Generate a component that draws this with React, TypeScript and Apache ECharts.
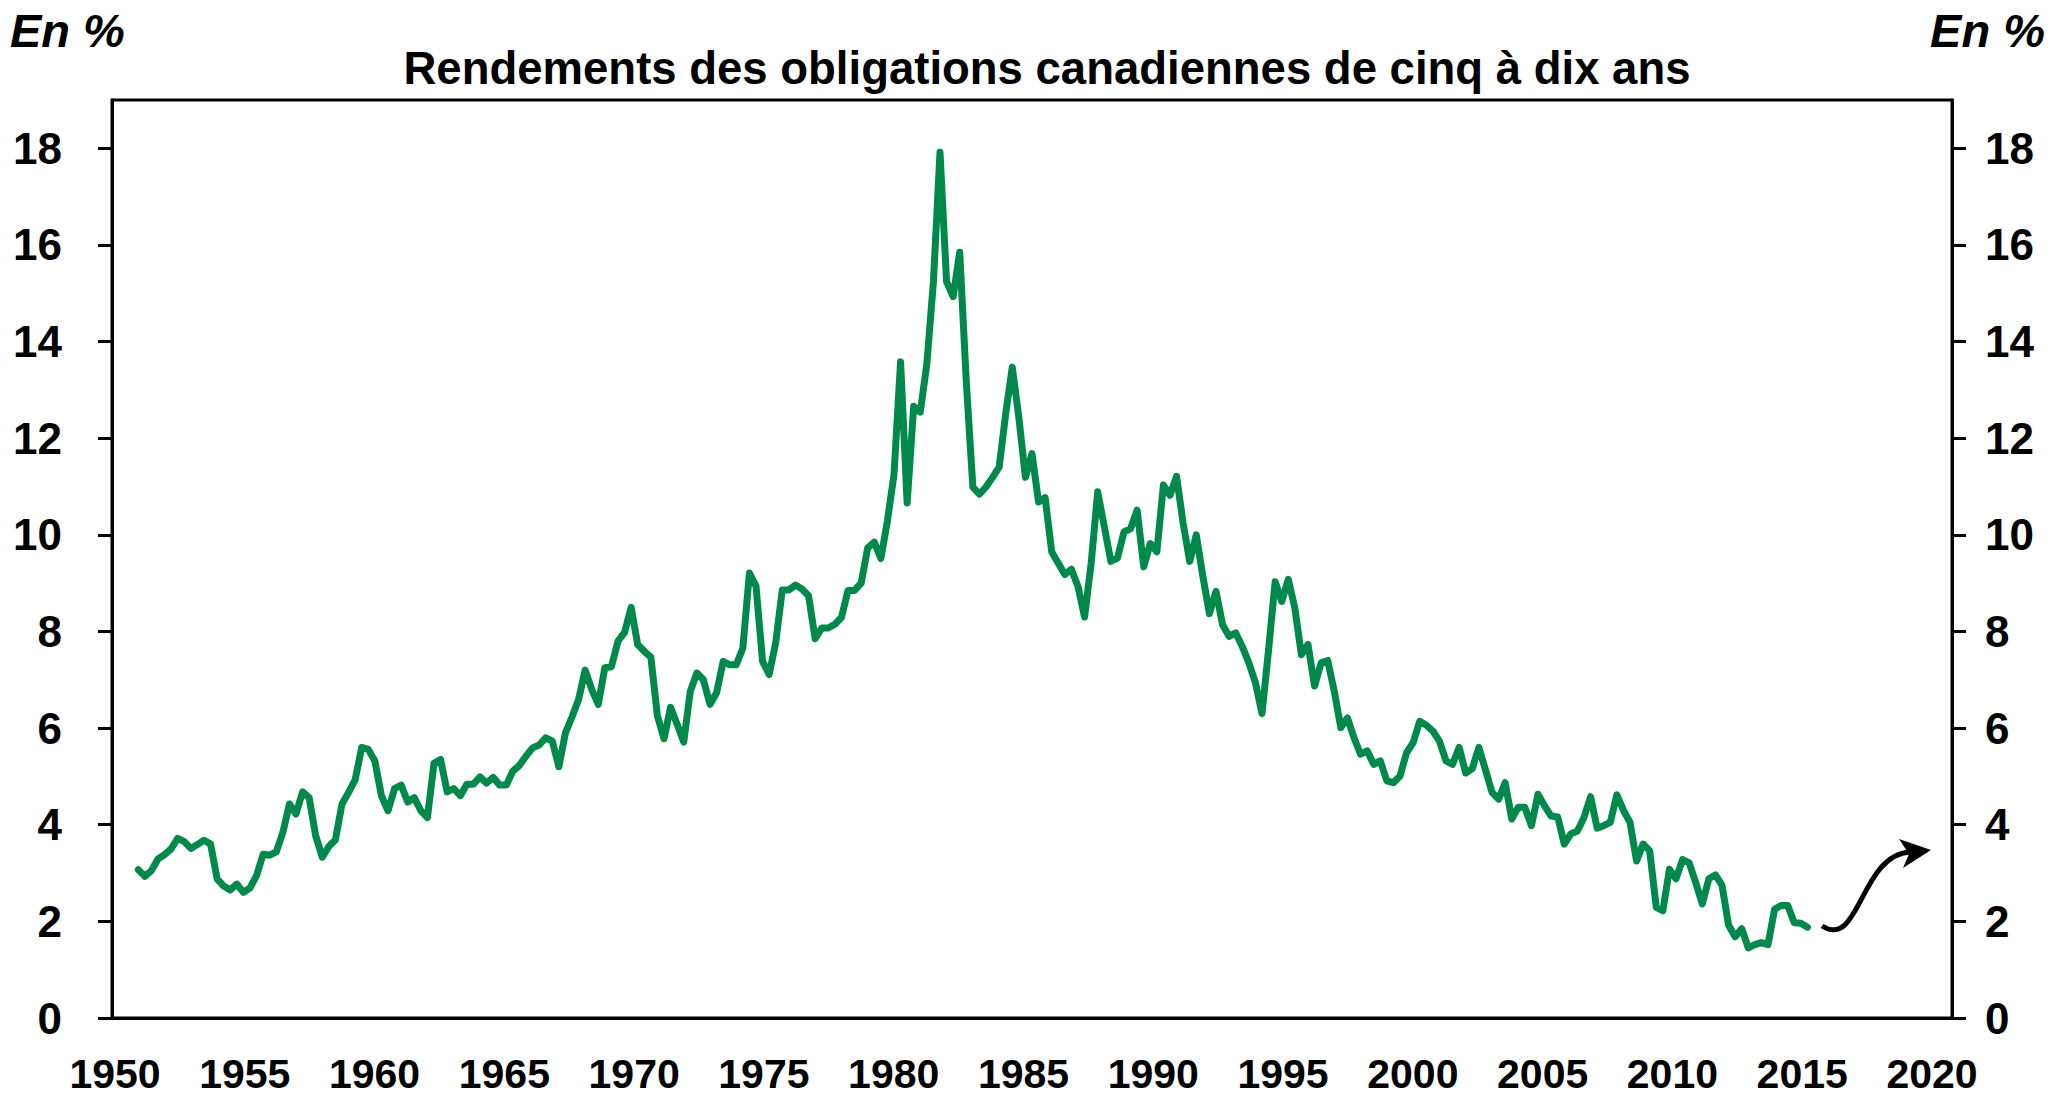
import React, { useEffect, useRef } from "react";
import * as echarts from "echarts";

// Quarterly yields (%), first observation 1951 Q1
const FIRST_YEAR = 1951;

const yields1951to1960 = [
  3.07, 2.93, 3.05, 3.29, 3.38, 3.50, 3.72, 3.65, 3.51, 3.59,
  3.68, 3.60, 2.88, 2.73, 2.65, 2.77, 2.60, 2.69, 2.95, 3.39,
  3.37, 3.44, 3.84, 4.43, 4.22, 4.68, 4.56, 3.77, 3.33, 3.55,
  3.69, 4.43, 4.67, 4.93, 5.60, 5.56, 5.32, 4.60, 4.29, 4.75,
];
const yields1961to1970 = [
  4.82, 4.47, 4.56, 4.29, 4.15, 5.27, 5.35, 4.68, 4.75, 4.60,
  4.84, 4.84, 4.99, 4.86, 4.98, 4.82, 4.82, 5.11, 5.23, 5.42,
  5.59, 5.65, 5.80, 5.73, 5.20, 5.90, 6.23, 6.59, 7.20, 6.80,
  6.49, 7.25, 7.27, 7.80, 7.98, 8.50, 7.73, 7.59, 7.47, 6.25,
];
const yields1971to1980 = [
  5.78, 6.43, 6.08, 5.71, 6.76, 7.14, 7.00, 6.49, 6.73, 7.38,
  7.31, 7.31, 7.66, 9.21, 8.94, 7.38, 7.11, 7.77, 8.86, 8.86,
  8.96, 8.88, 8.74, 7.85, 8.07, 8.07, 8.15, 8.29, 8.85, 8.85,
  9.00, 9.73, 9.85, 9.51, 10.29, 11.25, 13.58, 10.66, 12.66, 12.54,
];
const yields1981to1990 = [
  13.54, 15.24, 17.92, 15.24, 14.93, 15.85, 13.17, 10.99, 10.84, 10.99,
  11.19, 11.40, 12.51, 13.47, 12.43, 11.19, 11.68, 10.68, 10.77, 9.65,
  9.41, 9.18, 9.29, 8.93, 8.30, 9.41, 10.89, 10.17, 9.45, 9.52,
  10.06, 10.13, 10.51, 9.34, 9.82, 9.65, 11.03, 10.82, 11.21, 10.24,
];
const yields1991to2000 = [
  9.45, 10.00, 9.14, 8.37, 8.83, 8.14, 7.90, 7.97, 7.69, 7.35,
  6.94, 6.30, 7.62, 9.03, 8.62, 9.08, 8.48, 7.52, 7.73, 6.87,
  7.35, 7.40, 6.76, 6.01, 6.21, 5.80, 5.46, 5.53, 5.25, 5.32,
  4.91, 4.87, 5.01, 5.49, 5.70, 6.14, 6.06, 5.94, 5.73, 5.32,
];
const yields2001to2014 = [
  5.25, 5.60, 5.07, 5.16, 5.60, 5.14, 4.67, 4.53, 4.87, 4.12,
  4.36, 4.36, 3.98, 4.63, 4.39, 4.18, 4.16, 3.60, 3.81, 3.87,
  4.15, 4.58, 3.93, 3.98, 4.05, 4.62, 4.30, 4.05, 3.25, 3.60,
  3.46, 2.29, 2.22, 3.08, 2.88, 3.28, 3.21, 2.80, 2.36, 2.88,
  2.96, 2.75, 1.92, 1.68, 1.85, 1.45, 1.52, 1.56, 1.52, 2.25,
  2.33, 2.33, 1.97, 1.96, 1.88,
];

const allYields = [
  ...yields1951to1960,
  ...yields1961to1970,
  ...yields1971to1980,
  ...yields1981to1990,
  ...yields1991to2000,
  ...yields2001to2014,
];

const yTickValues = [0, 2, 4, 6, 8, 10, 12, 14, 16, 18];
const xMin = 1950;
const xMax = 2020;
const xStep = 5;

const titleText = "Rendements des obligations canadiennes de cinq à dix ans";
const unitText = "En %";

const FONT = '"Liberation Sans", Arial, Helvetica, sans-serif';
const GREEN = "#00894A";

export default function App() {
  const ref = useRef<HTMLDivElement>(null);

  useEffect(() => {
    if (!ref.current) return;
    const chart = echarts.init(ref.current, undefined, { renderer: "svg" });

    const seriesData = allYields.map((v, i) => [FIRST_YEAR + i / 4, v]);

    const yAxisCommon = {
      type: "value",
      gridIndex: 0,
      min: 0,
      max: 19,
      axisLine: { show: true, lineStyle: { color: "#000", width: 3 } },
      axisTick: {
        show: true,
        inside: false,
        length: 14,
        customValues: yTickValues,
        lineStyle: { color: "#000", width: 3 },
      },
      splitLine: { show: false },
    };

    const option: any = {
      animation: false,
      backgroundColor: "#ffffff",
      grid: [
        {
          left: 112,
          right: 108,
          top: 100,
          bottom: 78,
          show: true,
          borderColor: "#000",
          borderWidth: 3,
          backgroundColor: "transparent",
        },
        { left: 115, right: 128, top: 100, bottom: 78, show: false },
      ],
      xAxis: [
        {
          type: "value",
          gridIndex: 0,
          min: xMin,
          max: xMax,
          interval: xStep,
          axisLine: { show: true, onZero: false, lineStyle: { color: "#000", width: 3 } },
          axisTick: { show: false },
          axisLabel: { show: false },
          splitLine: { show: false },
        },
        {
          type: "value",
          gridIndex: 1,
          min: xMin,
          max: xMax,
          interval: xStep,
          axisLine: { show: false },
          axisTick: { show: false },
          splitLine: { show: false },
          axisLabel: {
            show: true,
            margin: 38,
            fontSize: 41,
            lineHeight: 36,
            fontWeight: "bold",
            fontFamily: FONT,
            color: "#000",
            formatter: (v: number) => String(v),
          },
        },
      ],
      yAxis: [
        {
          ...yAxisCommon,
          position: "left",
          axisLabel: {
            customValues: yTickValues,
            margin: 50,
            fontSize: 44,
            fontWeight: "bold",
            fontFamily: FONT,
            color: "#000",
            formatter: (v: number) => String(v),
          },
        },
        {
          ...yAxisCommon,
          position: "right",
          axisLabel: {
            customValues: yTickValues,
            margin: 33,
            fontSize: 44,
            fontWeight: "bold",
            fontFamily: FONT,
            color: "#000",
            formatter: (v: number) => String(v),
          },
        },
        { type: "value", gridIndex: 1, show: false, min: 0, max: 19 },
      ],
      series: [
        {
          type: "line",
          xAxisIndex: 0,
          yAxisIndex: 0,
          data: seriesData,
          showSymbol: false,
          symbol: "none",
          lineStyle: { color: GREEN, width: 7, join: "round", cap: "round" },
          z: 5,
        },
      ],
      graphic: [
        {
          type: "text",
          x: 1047,
          y: 68,
          style: {
            text: titleText,
            fontSize: 45.5,
            fontWeight: "bold",
            fontFamily: FONT,
            fill: "#000",
            align: "center",
            verticalAlign: "middle",
            textAlign: "center",
            textVerticalAlign: "middle",
          },
        },
        {
          type: "text",
          x: 10,
          y: 30,
          style: {
            text: unitText,
            fontSize: 47,
            fontWeight: "bold",
            fontStyle: "italic",
            fontFamily: FONT,
            fill: "#000",
            align: "left",
            verticalAlign: "middle",
            textAlign: "left",
            textVerticalAlign: "middle",
          },
        },
        {
          type: "text",
          x: 2045,
          y: 30,
          style: {
            text: unitText,
            fontSize: 47,
            fontWeight: "bold",
            fontStyle: "italic",
            fontFamily: FONT,
            fill: "#000",
            align: "right",
            verticalAlign: "middle",
            textAlign: "right",
            textVerticalAlign: "middle",
          },
        },
        {
          type: "bezierCurve",
          shape: {
            x1: 1822,
            y1: 926,
            cpx1: 1860,
            cpy1: 950,
            cpx2: 1860,
            cpy2: 855,
            x2: 1910,
            y2: 852,
          },
          style: { stroke: "#000", lineWidth: 5, fill: null },
          z: 10,
        },
        {
          type: "polygon",
          shape: {
            points: [
              [1931, 850],
              [1899, 839],
              [1909, 854],
              [1903, 868],
            ],
          },
          style: { fill: "#000" },
          z: 10,
        },
      ],
    };

    chart.setOption(option);
    return () => chart.dispose();
  }, []);

  return (
    <div
      ref={ref}
      style={{ position: "fixed", left: 0, top: 0, width: 2060, height: 1096, background: "#fff" }}
    />
  );
}
